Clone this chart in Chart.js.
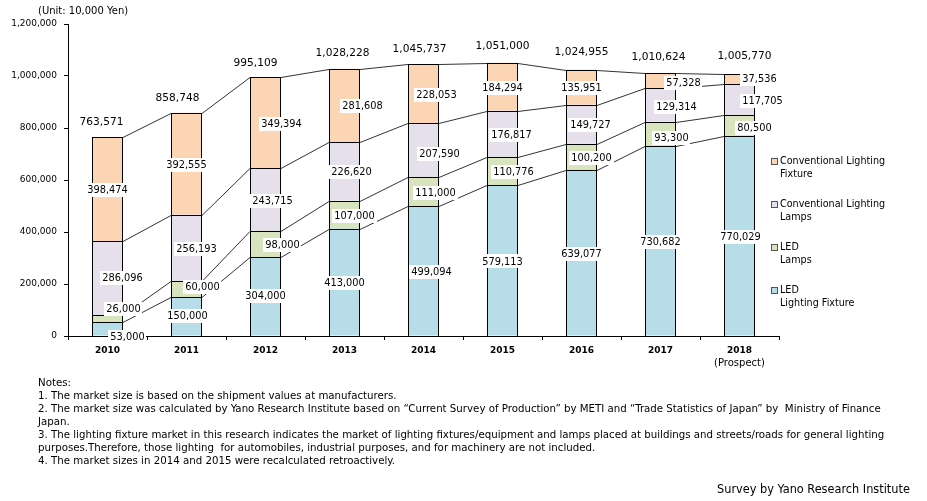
<!DOCTYPE html>
<html>
<head>
<meta charset="utf-8">
<script src="https://cdn.jsdelivr.net/npm/chart.js@4.4.0/dist/chart.umd.min.js"></script>
<style>
  body { margin: 0; background: #fff; }
  #wrap { position: relative; width: 927px; height: 501px; overflow: hidden; font-family: "DejaVu Sans", sans-serif; color: #000; }
  #chart { position: absolute; left: 0; top: 0; }
  .unit { position: absolute; left: 38px; top: 5px; font-size: 10px; }
  .legend { position: absolute; left: 771px; top: 0; font-size: 9.6px; line-height: 12.5px; }
  .legend .item { position: absolute; left: 0; white-space: nowrap; }
  .legend .box { position: absolute; left: 0; top: 3px; width: 5px; height: 5px; border: 1px solid #555; }
  .legend .txt { position: absolute; left: 9px; top: 0; }
  .notes { position: absolute; left: 38px; top: 376px; font-family: "DejaVu Sans Condensed", "DejaVu Sans", sans-serif; font-size: 11px; line-height: 13px; white-space: nowrap; }
  .source { position: absolute; left: 717px; top: 481px; font-family: "DejaVu Sans Condensed", "DejaVu Sans", sans-serif; font-size: 11px; white-space: nowrap; }
</style>
</head>
<body>
<div id="wrap">
  <canvas id="chart" width="927" height="501"></canvas>
  <div class="unit">(Unit: 10,000 Yen)</div>
  <div class="legend" id="legend"></div>
  <div class="notes" id="notes">
    <div>Notes:</div>
    <div>1. The market size is based on the shipment values at manufacturers.</div>
    <div id="note2">2. The market size was calculated by Yano Research Institute based on “Current Survey of Production” by METI and “Trade Statistics of Japan” by&nbsp; Ministry of Finance</div>
    <div>Japan.</div>
    <div>3. The lighting fixture market in this research indicates the market of lighting fixtures/equipment and lamps placed at buildings and streets/roads for general lighting</div>
    <div>purposes.Therefore, those lighting&nbsp; for automobiles, industrial purposes, and for machinery are not included.</div>
    <div>4. The market sizes in 2014 and 2015 were recalculated retroactively.</div>
  </div>
  <div class="source" id="source">Survey by Yano Research Institute</div>
</div>
<script>
// --- dados (unidade: 10.000 ienes) ---
const years = ['2010', '2011', '2012', '2013', '2014', '2015', '2016', '2017', '2018'];
const yearNote = ['', '', '', '', '', '', '', '', '(Prospect)'];
const ledFixture = [53000, 150000, 304000, 413000, 499094, 579113, 639077, 730682, 770029];
const ledLamps = [26000, 60000, 98000, 107000, 111000, 110776, 100200, 93300, 80500];
const convLamps = [286096, 256193, 243715, 226620, 207590, 176817, 149727, 129314, 117705];
const convFixture = [398474, 392555, 349394, 281608, 228053, 184294, 135951, 57328, 37536];
const totals = [763571, 858748, 995109, 1028228, 1045737, 1051000, 1024955, 1010624, 1005770];
const yTicks = [0, 200000, 400000, 600000, 800000, 1000000, 1200000];

const seriesNames = ['LED\nLighting Fixture', 'LED\nLamps', 'Conventional Lighting\nLamps', 'Conventional Lighting\nFixture'];
const seriesColors = ['#B7DEE8', '#D7E4BD', '#E6E0EC', '#FCD5B5'];

// deslocamento dos rótulos (px) em relação ao centro de cada segmento
const labelNudge = [
  [[20, 8], [1, 0], [0, 0], [0, 1], [8, 1], [0, 1], [0, 1], [0, 1], [1, 1]],
  [[16, -10], [16, -2], [17, 1], [10, 1], [12, 1], [11, 1], [10, 1], [11, 4], [15, 3]],
  [[15, 0], [10, 1], [7, 1], [7, 1], [16, 4], [9, 1], [9, 1], [16, 2], [23, 1]],
  [[0, 1], [0, 1], [16, 1], [18, 1], [13, 1], [0, 1], [0, 1], [23, 2], [20, 0]]
];
const totalNudge = [[-6, -15], [-9, -14], [-10, -14], [-2, -15], [-4, -15], [0, -16], [0, -17], [-2, -16], [5, -18]];

const fmt = v => v.toLocaleString('en-US');

// ajusta o tamanho da fonte para a largura medida no original
function fitWidth(el, ref, target) {
  const size = parseFloat(getComputedStyle(el).fontSize);
  const w = ref.getBoundingClientRect().width;
  if (w > 0) el.style.fontSize = (size * target / w) + 'px';
}
document.getElementById('note2').style.display = 'inline-block';
fitWidth(document.getElementById('notes'), document.getElementById('note2'), 844);
document.getElementById('note2').style.display = 'block';
const src = document.getElementById('source');
src.style.display = 'inline-block';
fitWidth(src, src, 193);

// legenda (ordem invertida, como no original)
(function buildLegend() {
  const legend = document.getElementById('legend');
  const firstLine = [161, 204, 247, 290];
  for (let k = 0; k < 4; k++) {
    const s = 3 - k;
    const item = document.createElement('div');
    item.className = 'item';
    item.style.top = (firstLine[k] - 6) + 'px';
    item.innerHTML = '<div class="box" style="background:' + seriesColors[s] + '"></div>' +
      '<div class="txt">' + seriesNames[s].replace('\n', '<br>') + '</div>';
    legend.appendChild(item);
  }
})();

const decorPlugin = {
  id: 'decor',
  afterDatasetsDraw(chart) {
    const ctx = chart.ctx;
    const metas = chart.data.datasets.map((d, i) => chart.getDatasetMeta(i));

    ctx.save();
    // contorno das barras (alinhado ao pixel)
    ctx.strokeStyle = '#000';
    ctx.lineWidth = 1;
    metas.forEach(meta => {
      meta.data.forEach(el => {
        const l = Math.round(el.x - el.width / 2), r = Math.round(el.x + el.width / 2);
        const t = Math.round(el.y), b = Math.round(el.base);
        ctx.strokeRect(l + 0.5, t + 0.5, r - l - 1, b - t);
      });
    });

    // linhas de ligação entre as barras
    ctx.strokeStyle = '#333';
    metas.forEach(meta => {
      for (let j = 0; j < meta.data.length - 1; j++) {
        const a = meta.data[j], b = meta.data[j + 1];
        ctx.beginPath();
        ctx.moveTo(Math.round(a.x + a.width / 2), Math.round(a.y) + 0.5);
        ctx.lineTo(Math.round(b.x - b.width / 2), Math.round(b.y) + 0.5);
        ctx.stroke();
      }
    });

    // rótulos dos segmentos
    ctx.font = '9.8px "DejaVu Sans"';
    ctx.textAlign = 'center';
    ctx.textBaseline = 'middle';
    metas.forEach((meta, i) => {
      const values = chart.data.datasets[i].data;
      meta.data.forEach((el, j) => {
        const txt = fmt(values[j]);
        const cx = el.x + labelNudge[i][j][0];
        const cy = (el.y + el.base) / 2 + labelNudge[i][j][1];
        const w = ctx.measureText(txt).width + 4;
        ctx.fillStyle = '#fff';
        ctx.fillRect(Math.round(cx - w / 2), Math.round(cy - 7), Math.round(w), 14);
        ctx.fillStyle = '#000';
        ctx.fillText(txt, cx, cy + 0.5);
      });
    });

    // totais acima das barras
    ctx.font = '10.6px "DejaVu Sans"';
    const top = metas[metas.length - 1];
    top.data.forEach((el, j) => {
      ctx.fillText(fmt(totals[j]), el.x + totalNudge[j][0], el.y + totalNudge[j][1]);
    });

    // "(Prospect)" sob o ano
    ctx.font = '10px "DejaVu Sans"';
    const xs = chart.scales.x;
    yearNote.forEach((n, j) => {
      if (n) ctx.fillText(n, xs.getPixelForValue(j), xs.top + 27);
    });
    ctx.restore();
  }
};

new Chart(document.getElementById('chart'), {
  type: 'bar',
  data: {
    labels: years,
    datasets: [ledFixture, ledLamps, convLamps, convFixture].map((arr, i) => ({
      label: seriesNames[i],
      data: arr,
      backgroundColor: seriesColors[i],
      borderWidth: 0,
      barPercentage: 31 / 79,
      categoryPercentage: 1
    }))
  },
  options: {
    responsive: false,
    animation: false,
    devicePixelRatio: 1,
    layout: { padding: { top: 24, right: 148, bottom: 135, left: 0 } },
    plugins: { legend: { display: false }, tooltip: { enabled: false } },
    scales: {
      x: {
        stacked: true,
        afterFit: s => { s.height = 30; },
        border: { color: '#000', width: 1 },
        grid: { drawOnChartArea: false, tickLength: 4, color: '#000', offset: true },
        ticks: { color: '#000', padding: 5, font: { family: 'DejaVu Sans', size: 9, weight: 'bold' } }
      },
      y: {
        stacked: true,
        min: 0,
        max: 1200000,
        afterFit: s => { s.width = 68; },
        afterBuildTicks: s => { s.ticks = yTicks.map(v => ({ value: v })); },
        border: { color: '#000', width: 1 },
        grid: { drawOnChartArea: false, tickLength: 4, color: '#000' },
        ticks: { color: '#000', padding: 7, font: { family: 'DejaVu Sans', size: 9 }, callback: v => fmt(v) }
      }
    }
  },
  plugins: [decorPlugin]
});
</script>
</body>
</html>
